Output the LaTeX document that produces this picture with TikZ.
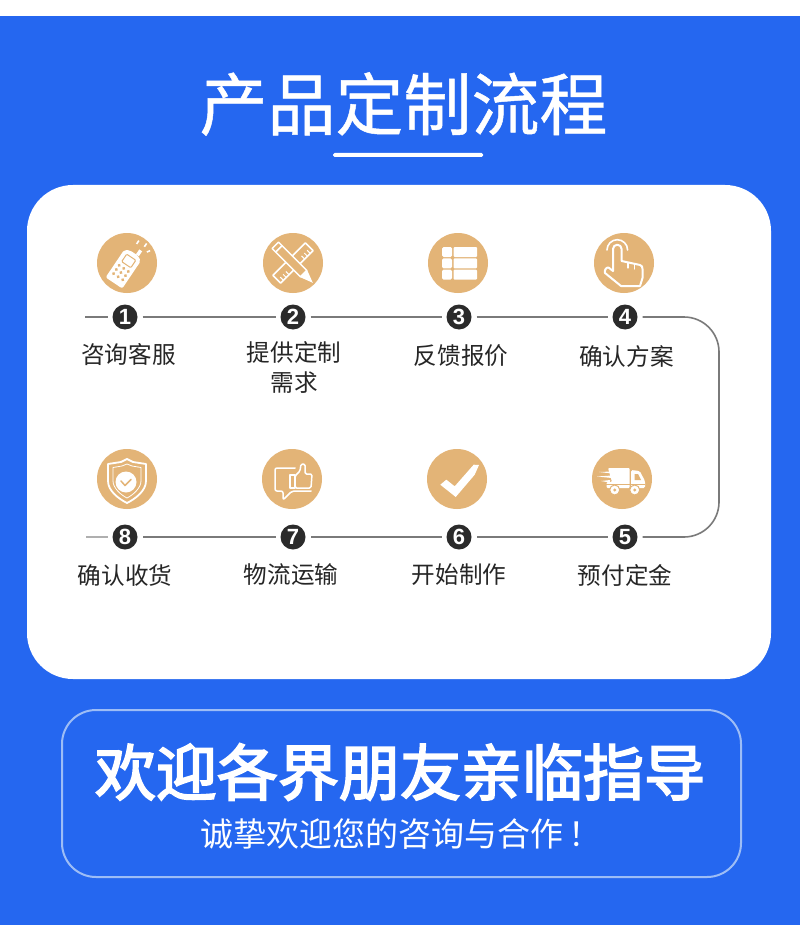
\documentclass[tikz,border=0pt]{standalone}
\usepackage{fontspec}
\setmainfont{Noto Sans CJK SC}
\newfontfamily\numfont{Liberation Sans}
\newfontfamily\titlefont[FakeBold=0.7]{Noto Sans CJK SC}
\newfontfamily\welcomefont[FakeBold=3]{Noto Sans CJK SC}
\usepackage{xcolor}
\definecolor{pageblue}{HTML}{2567F0}
\definecolor{icontan}{HTML}{E3B477}
\definecolor{numdark}{HTML}{2B2B2B}
\definecolor{linegray}{HTML}{7A7A7A}
\definecolor{frameblue}{HTML}{9DBDF6}
\tikzset{
  iconcircle/.style={circle, fill=icontan, minimum size=60pt, inner sep=0pt},
  numdot/.style={circle, fill=numdark, text=white, minimum size=25pt, inner sep=0pt, outer sep=5pt, font=\numfont\bfseries\fontsize{22}{22}\selectfont},
  steplabel/.style={align=center, inner sep=0pt, text=black!85, font=\fontsize{23.6}{30.5}\selectfont},
  linkline/.style={draw=linegray, line width=1.6pt},
  iconline/.style={draw=white, line width=1.5pt, line join=round, line cap=round}
}
\begin{document}
\begin{tikzpicture}[x=1pt, y=-1pt]
\useasboundingbox (0,0) rectangle (800,925);
\fill[white] (0,0) rectangle (800,925);
\fill[pageblue] (0,16) rectangle (800,925);
% heading
\node[text=white, inner sep=0pt, font=\titlefont\fontsize{68}{68}\selectfont] (title) at (403.5,104) {产品定制流程};
\fill[white, rounded corners=1.5pt] (333,153) rectangle (483,157);
\fill[white, rounded corners=46pt] (27,185) rectangle (771,679);
% icons, upper row
\node[iconcircle] (icon1) at (127,263) {};
\node[iconcircle] (icon2) at (293,263) {};
\node[iconcircle] (icon3) at (458,263) {};
\node[iconcircle] (icon4) at (624,263) {};
% icons, lower row
\node[iconcircle] (icon8) at (127,479) {};
\node[iconcircle] (icon7) at (292,479) {};
\node[iconcircle] (icon6) at (457,479) {};
\node[iconcircle] (icon5) at (622,479) {};
% numbers
\node[numdot] (num1) at (125,317) {1};
\node[numdot] (num2) at (293,317) {2};
\node[numdot] (num3) at (459,317) {3};
\node[numdot] (num4) at (625,317) {4};
\node[numdot] (num8) at (125,537) {8};
\node[numdot] (num7) at (293,537) {7};
\node[numdot] (num6) at (459,537) {6};
\node[numdot] (num5) at (625,537) {5};
% connectors
\coordinate (startup) at (85,317);
\coordinate (startlow) at (86,537);
\coordinate (turnup) at (719,317);
\coordinate (turnlow) at (719,537);
\draw[linkline] (startup) -- (num1);
\draw[linkline] (num1) -- (num2);
\draw[linkline] (num2) -- (num3);
\draw[linkline] (num3) -- (num4);
\draw[linkline, rounded corners=35pt] (num4) -- (turnup) -- (turnlow) -- (num5);
\draw[linkline, line width=2pt] (num5) -- (num6);
\draw[linkline, line width=2pt] (num6) -- (num7);
\draw[linkline, line width=2pt] (num7) -- (num8);
\draw[linkline, draw=linegray!60] (num8) -- (startlow);
% labels
\node[steplabel] (label1) at (128.5,355) {咨询客服};
\node[steplabel, anchor=north] (label2) at (294,341) {提供定制\\需求};
\node[steplabel] (label3) at (461,356) {反馈报价};
\node[steplabel] (label4) at (626.5,356) {确认方案};
\node[steplabel] (label8) at (125,575) {确认收货};
\node[steplabel] (label7) at (291,575) {物流运输};
\node[steplabel] (label6) at (459,575) {开始制作};
\node[steplabel] (label5) at (625,575) {预付定金};
% phone
\begin{scope}[shift={(icon1.center)}]
\begin{scope}[shift={(-3,5)}, rotate=-34]
\fill[white, rounded corners=2pt] (-10,-15) -- (-5,-18) -- (5,-18) -- (10,-15) -- (10,18) -- (-10,18) -- cycle;
\draw[icontan, line width=1pt, rounded corners=1pt] (-5.5,-13) rectangle (5.5,-4);
\foreach \px in {-5.5,0,5.5} \foreach \py in {0.5,5.5,10.5}
  \fill[icontan] (\px,\py) circle (1.7pt);
\draw[white, line width=3.5pt] (4,-18) -- (4,-24);
\draw[white, line width=1.6pt] (-3,-31) -- (-3,-27);
\draw[white, line width=1.6pt] (5,-33) -- (5,-29);
\draw[white, line width=1.6pt] (12,-29) -- (10,-26);
\end{scope}
\end{scope}
% pencil and ruler
\begin{scope}[shift={(icon2.center)}]
\begin{scope}[rotate=45]
\draw[iconline] (-23,-5.5) rectangle (23,5.5);
\foreach \tx in {-19,-15,-11,11,15,19}
  \draw[white, line width=1pt] (\tx,5.5) -- (\tx,1);
\end{scope}
\begin{scope}[rotate=-45]
\filldraw[iconline, fill=icontan] (-25,-4.5) rectangle (15,4.5);
\draw[iconline] (-20,-4.5) -- (-20,4.5);
\fill[white] (15,-5) -- (28,0) -- (15,5) -- cycle;
\end{scope}
\end{scope}
% list
\begin{scope}[shift={(icon3.center)}]
\foreach \ry in {-16,-4.7,6.6} {
  \fill[white, rounded corners=1.5pt] (-16,\ry) rectangle (-6,\ry+10);
  \fill[white, rounded corners=1pt] (-4.5,\ry) rectangle (19,\ry+10);
}
\end{scope}
% hand
\begin{scope}[shift={(icon4.center)}]
\draw[iconline, line width=2pt] (-11,8) -- (-11,-14) arc[start angle=180, end angle=360, radius=4.3] -- (-2.4,-2) -- (16,2) .. controls (18,2.5) and (18.5,4) .. (18.5,6) -- (18.5,15) -- (16,23) -- (-3,23) -- (-19,10) .. controls (-20,8) and (-18,4) .. (-15.5,4.5) -- cycle;
\draw[iconline, line width=1.6pt] (-17,-13) arc[start angle=180, end angle=360, radius=10.3];
\draw[iconline, line width=1.2pt] (4,-.5) -- (4,5);
\draw[iconline, line width=1.2pt] (10.5,1) -- (10.5,6);
\end{scope}
% truck
\begin{scope}[shift={(icon5.center)}]
\fill[white, rounded corners=1pt] (-14,-11) -- (7.5,-11) -- (7.5,9) -- (-15.5,9) -- (-15.5,3) -- (-10,3) -- cycle;
\fill[white, rounded corners=1.5pt] (9,-9) -- (17.7,-8) -- (23,2) -- (23,9) -- (9,9) -- cycle;
\fill[icontan] (12.5,-5) -- (16,-5) -- (19,1) -- (12.5,1) -- cycle;
\fill[white] (-23,-7) -- (-10,-7.5) -- (-10,-5.5) -- cycle;
\fill[white] (-25,-2.5) -- (-10,-3.5) -- (-10,-1) -- cycle;
\fill[white] (-21,2) -- (-12,1) -- (-12,3.5) -- cycle;
\draw[icontan, line width=.8pt] (-16,5) -- (23,5);
\filldraw[fill=white, draw=icontan, line width=1pt] (-7.3,11) circle (5pt);
\filldraw[fill=white, draw=icontan, line width=1pt] (12.7,11) circle (5pt);
\fill[icontan] (-7.3,11) circle (1.6pt);
\fill[icontan] (12.7,11) circle (1.6pt);
\end{scope}
% check
\begin{scope}[shift={(icon6.center)}]
\fill[white] (-16.7,5.7) -- (-10.7,0.7) -- (-2.3,7.3) -- (16.7,-14.3) -- (22,-14) -- (17.7,-4.3) -- (-1.3,18) -- cycle;
\end{scope}
% speech bubble and thumb
\begin{scope}[shift={(icon7.center)}]
\draw[iconline, rounded corners=2pt] (3,-11) -- (-17,-11) -- (-17,12) -- (-9,12) -- (-9,21) -- (0,12) -- (19,12);
\filldraw[iconline, fill=icontan] (-2,-4) rectangle (3,9);
\filldraw[iconline, fill=icontan, rounded corners=1.5pt] (3,-3) -- (8,-8) -- (9,-15) -- (13,-15) -- (13,-5) -- (20,-5) -- (19,9) -- (3,9) -- cycle;
\end{scope}
% shield
\begin{scope}[shift={(icon8.center)}]
\draw[iconline, line width=1.8pt] (0,-20) -- (-6,-17) -- (-19,-15) -- (-19,2) .. controls (-19,12) and (-8,20) .. (0,24) .. controls (8,20) and (19,12) .. (19,2) -- (19,-15) -- (6,-17) -- cycle;
\draw[iconline, line width=.8pt] (0,-15) -- (-5,-13) -- (-14,-11.5) -- (-14,2) .. controls (-14,9) and (-6,16) .. (0,19) .. controls (6,16) and (14,9) .. (14,2) -- (14,-11.5) -- (5,-13) -- cycle;
\fill[white] (-1,3) circle (10.5pt);
\draw[icontan, line width=1.5pt, line cap=round, line join=round] (-6,2) -- (-2,6.5) -- (4,0.5);
\end{scope}
% bottom frame
\draw[frameblue, line width=2pt, rounded corners=34pt] (62,710) rectangle (741,877);
\node[text=white, inner sep=0pt, font=\welcomefont\fontsize{61}{61}\selectfont] (welcome) at (400,772) {欢迎各界朋友亲临指导};
\node[text=white, inner sep=0pt, font=\fontsize{33}{33}\selectfont] (subline) at (401,834) {诚挚欢迎您的咨询与合作\hspace{5pt}！};
\end{tikzpicture}
\end{document}
